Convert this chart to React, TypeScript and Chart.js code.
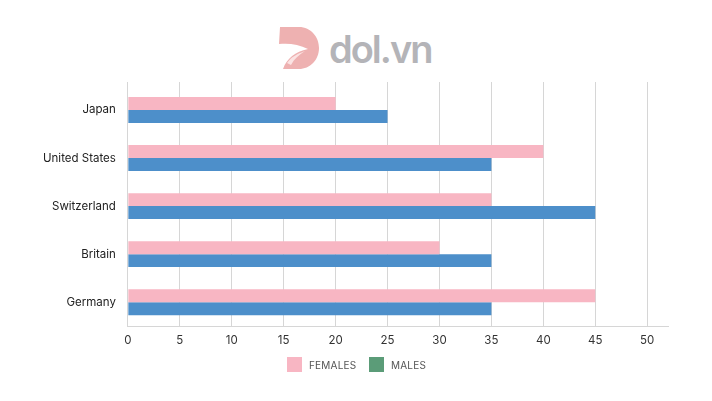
import React, { useEffect, useRef } from "react";
import { Chart, registerables } from "chart.js";

Chart.register(...registerables);

const categories = ["Japan", "United States", "Switzerland", "Britain", "Germany"];
const femalesValues = [20, 40, 35, 30, 45];
const malesValues = [25, 35, 45, 35, 35];
const seriesNames = ["FEMALES", "MALES"];
const xTickValues = [0, 5, 10, 15, 20, 25, 30, 35, 40, 45, 50];

const PINK = "#f8b6c3";
const BLUE = "#4d8fca";
const GREEN = "#5b9c78";
const LEGEND_COLORS = [PINK, GREEN];
const GRID = "#d6d6d6";

export default function App() {
  const ref = useRef<HTMLCanvasElement | null>(null);

  useEffect(() => {
    if (!ref.current) return;
    const setTicks = (axis: any) => {
      axis.ticks = xTickValues.map((v) => ({ value: v }));
    };
    const chart = new Chart(ref.current, {
      type: "bar",
      data: {
        labels: categories,
        datasets: [
          {
            label: seriesNames[0],
            data: femalesValues,
            backgroundColor: PINK,
            categoryPercentage: 0.54,
            barPercentage: 1,
          },
          {
            label: seriesNames[1],
            data: malesValues,
            backgroundColor: BLUE,
            categoryPercentage: 0.54,
            barPercentage: 1,
          },
        ],
      },
      options: {
        indexAxis: "y",
        responsive: false,
        animation: false,
        maintainAspectRatio: false,
        layout: { padding: { top: 82, right: 44, left: 31, bottom: 47 } },
        plugins: {
          tooltip: { enabled: false },
          legend: { display: false },
        },
        scales: {
          x: {
            min: 0,
            max: 52,
            afterBuildTicks: setTicks,
            grid: { color: GRID, drawTicks: false },
            border: { display: true, color: GRID },
            ticks: {
              color: "#333",
              padding: 7,
              font: { family: "Inter", size: 11.5 },
            },
          },
          x2: {
            axis: "x",
            position: "top",
            min: 0,
            max: 52,
            afterBuildTicks: setTicks,
            grid: { color: GRID, drawOnChartArea: false, drawTicks: true, tickLength: 4 },
            border: { display: false },
            ticks: { display: false },
          },
          y: {
            grid: { display: false, drawTicks: false },
            border: { display: false },
            ticks: {
              color: "#222",
              padding: 12,
              font: { family: "Inter", size: 11.5 },
            },
          },
        },
      },
    });
    return () => chart.destroy();
  }, []);

  const legendX = [287, 369];

  return (
    <div
      style={{
        position: "fixed",
        left: 0,
        top: 0,
        width: 712,
        height: 401,
        background: "#fff",
      }}
    >
      <svg
        width="40"
        height="42"
        viewBox="0 0 40 42"
        style={{ position: "absolute", left: 279, top: 27 }}
      >
        <path
          d="M1 0 H20 C32 0 40 10 40 21 C40 33 31 42 20 42 H4 C8 31 16 25 29 22 C20 17 9 16 0 17 Z"
          fill="#eeb1b1"
        />
        <path d="M8 36 C12 30 18 27 26 24 C20 28 15 32 12 38 Z" fill="#fbe3e3" />
      </svg>
      <span
        style={{
          position: "absolute",
          left: 329,
          top: 25,
          fontFamily: "Inter",
          fontWeight: 600,
          fontSize: 38,
          color: "#b4b4b8",
          letterSpacing: -2,
          lineHeight: "48px",
          whiteSpace: "nowrap",
        }}
      >
        dol.vn
      </span>
      <canvas ref={ref} width={712} height={401} style={{ position: "absolute", left: 0, top: 0 }} />
      {seriesNames.map((n, i) => (
        <div
          key={n}
          style={{
            position: "absolute",
            left: legendX[i],
            top: 357,
            height: 15,
            display: "flex",
            alignItems: "center",
            whiteSpace: "nowrap",
          }}
        >
          <span
            style={{
              display: "inline-block",
              width: 15,
              height: 15,
              background: LEGEND_COLORS[i],
              marginRight: 7,
            }}
          />
          <span
            style={{
              fontFamily: "Inter",
              fontSize: 10,
              letterSpacing: 0.2,
              color: "#555",
            }}
          >
            {n}
          </span>
        </div>
      ))}
    </div>
  );
}
